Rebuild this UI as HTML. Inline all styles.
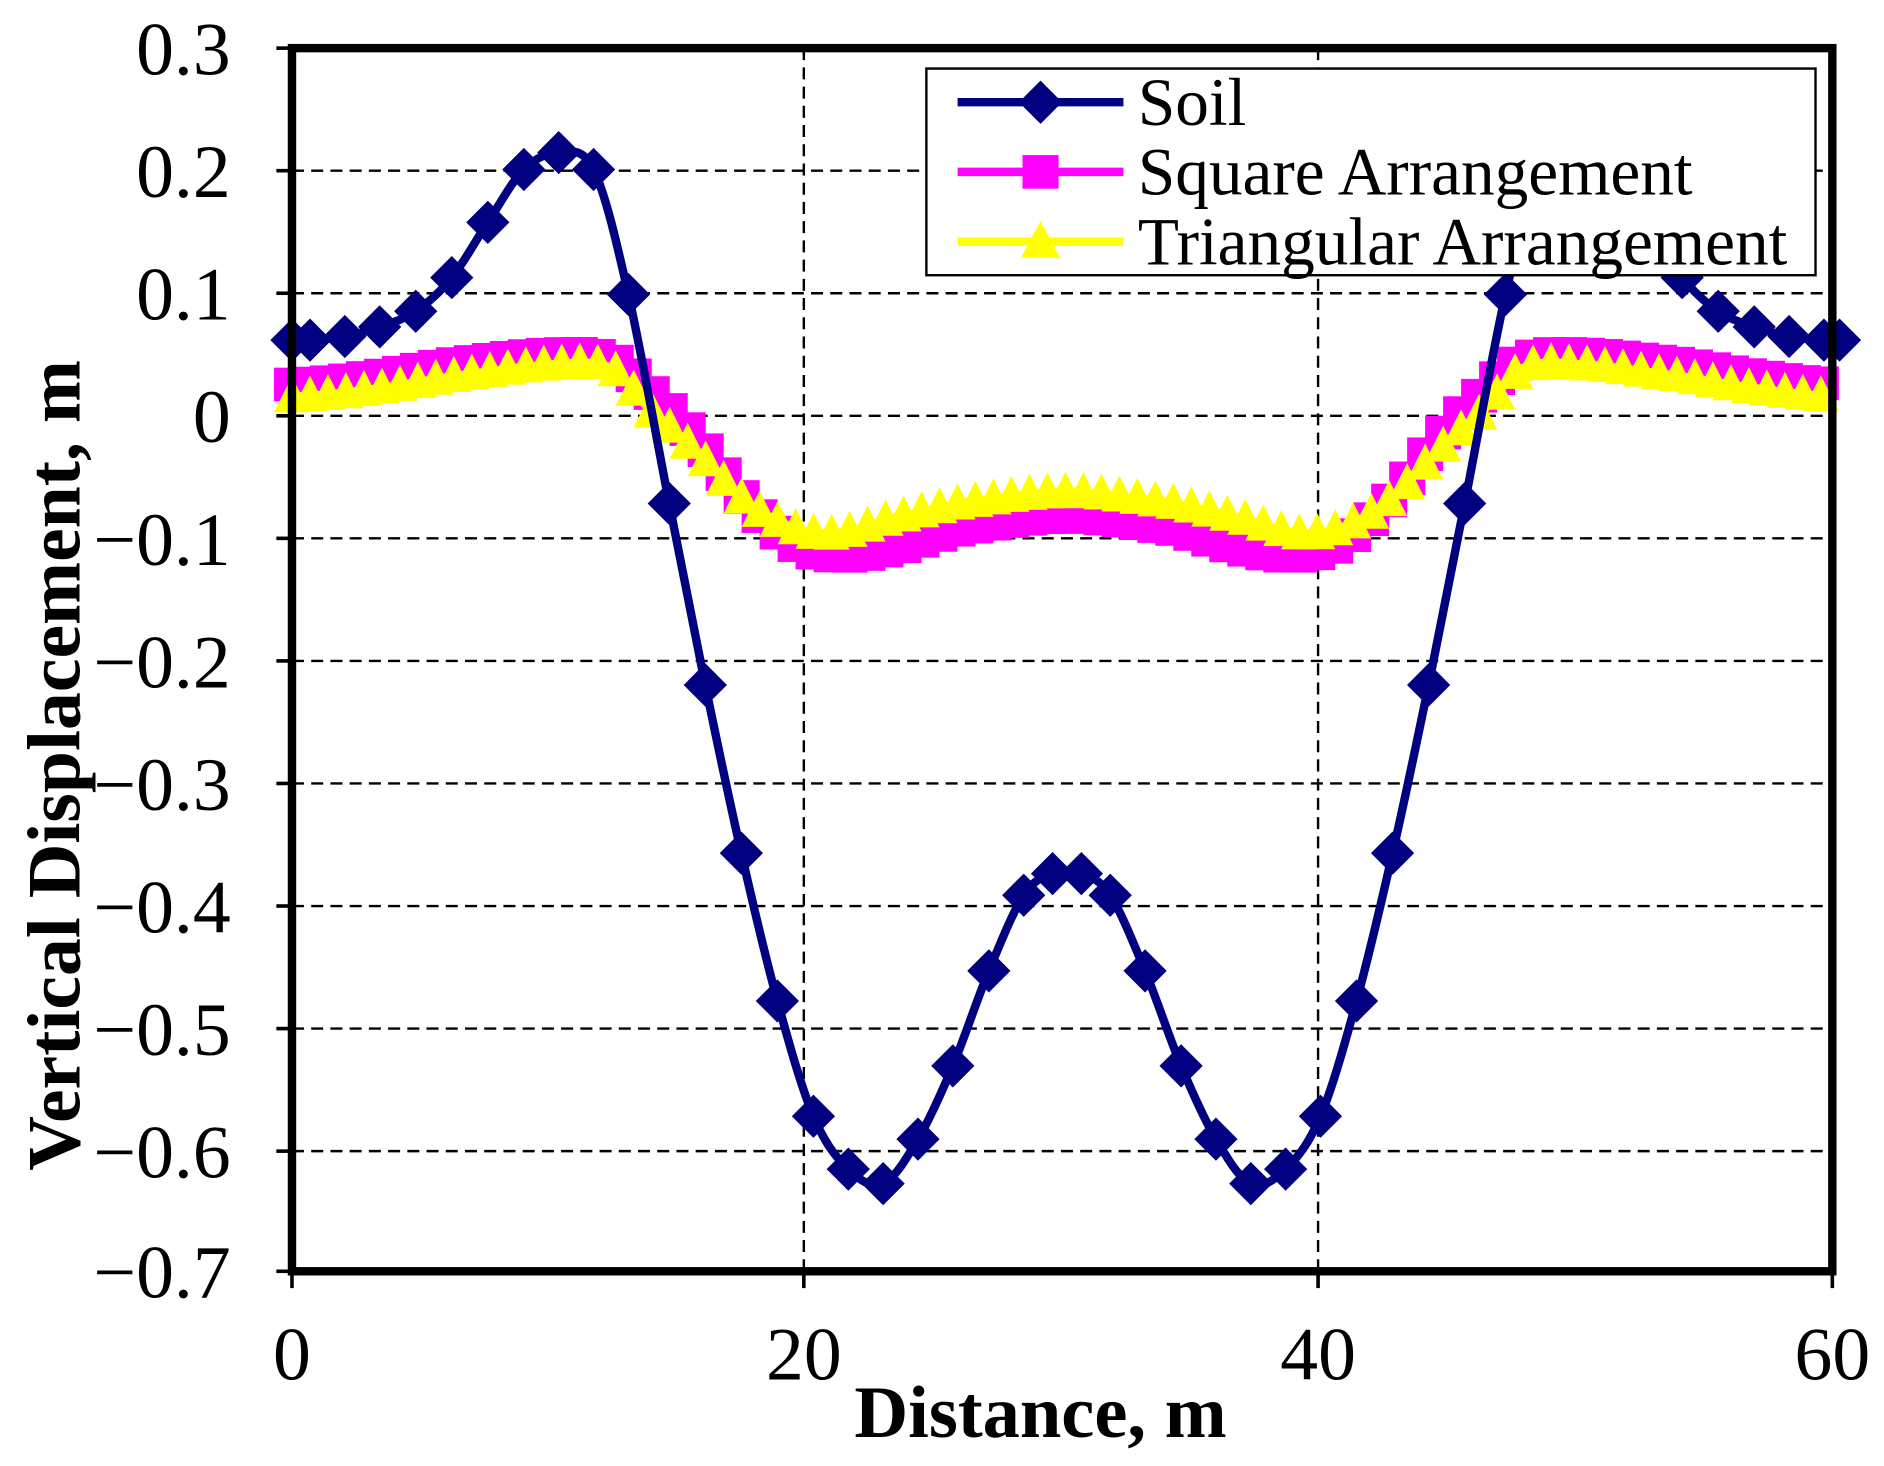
<!DOCTYPE html>
<html><head><meta charset="utf-8"><style>html,body{margin:0;padding:0;background:#fff}svg{display:block}</style></head>
<body>
<svg id="s" width="1884" height="1466" viewBox="0 0 1568 1220" xmlns="http://www.w3.org/2000/svg" font-family="Liberation Serif, serif">
<g stroke="#000" stroke-width="2" stroke-dasharray="10,6">
<line x1="243" y1="142" x2="1525" y2="142"/><line x1="243" y1="244" x2="1525" y2="244"/>
<line x1="243" y1="346" x2="1525" y2="346"/><line x1="243" y1="448" x2="1525" y2="448"/>
<line x1="243" y1="550" x2="1525" y2="550"/><line x1="243" y1="652" x2="1525" y2="652"/>
<line x1="243" y1="754" x2="1525" y2="754"/><line x1="243" y1="856" x2="1525" y2="856"/>
<line x1="243" y1="958" x2="1525" y2="958"/>
<line x1="669" y1="40" x2="669" y2="1058"/><line x1="1097" y1="40" x2="1097" y2="1058"/>
</g>
<g id="series"></g>
<rect x="243" y="40" width="1282" height="1018" fill="none" stroke="#000" stroke-width="7"/>
<g stroke="#000" stroke-width="3">
<line x1="230" y1="40" x2="243" y2="40"/><line x1="230" y1="142" x2="243" y2="142"/><line x1="230" y1="244" x2="243" y2="244"/><line x1="230" y1="346" x2="243" y2="346"/><line x1="230" y1="448" x2="243" y2="448"/><line x1="230" y1="550" x2="243" y2="550"/><line x1="230" y1="652" x2="243" y2="652"/><line x1="230" y1="754" x2="243" y2="754"/><line x1="230" y1="856" x2="243" y2="856"/><line x1="230" y1="958" x2="243" y2="958"/><line x1="230" y1="1058" x2="243" y2="1058"/>
<line x1="243" y1="1058" x2="243" y2="1072"/><line x1="669" y1="1058" x2="669" y2="1072"/><line x1="1097" y1="1058" x2="1097" y2="1072"/><line x1="1525" y1="1058" x2="1525" y2="1072"/>
</g>
<g font-size="63" text-anchor="end">
<text x="192" y="62">0.3</text><text x="192" y="164">0.2</text><text x="192" y="266">0.1</text><text x="192" y="368">0</text>
<text x="192" y="470">−0.1</text><text x="192" y="572">−0.2</text><text x="192" y="674">−0.3</text><text x="192" y="776">−0.4</text>
<text x="192" y="878">−0.5</text><text x="192" y="980">−0.6</text><text x="192" y="1080">−0.7</text>
</g>
<g font-size="63" text-anchor="middle">
<text x="243" y="1148">0</text><text x="669" y="1148">20</text><text x="1097" y="1148">40</text><text x="1525" y="1148">60</text>
</g>
<text x="866" y="1196" font-size="62" font-weight="bold" text-anchor="middle">Distance, m</text>
<text transform="translate(66,637) rotate(-90)" font-size="63" font-weight="bold" text-anchor="middle">Vertical Displacement, m</text>
<rect x="771" y="57" width="740" height="172" fill="#fff" stroke="#000" stroke-width="2"/>
<g id="leg"></g>
<g font-size="56"><text x="947" y="104">Soil</text><text x="947" y="162">Square Arrangement</text><text x="947" y="220">Triangular Arrangement</text></g>
</svg>
<script>
const NS="http://www.w3.org/2000/svg";
function el(t,a,p){const e=document.createElementNS(NS,t);for(const k in a)e.setAttribute(k,a[k]);p.appendChild(e);return e;}
const g=document.getElementById('series'),L=document.getElementById('leg');
const Y=v=>345.4-v*1018;
function mirror(pts){const c=888,r=pts.slice();for(let i=pts.length-2;i>=0;i--)r.push([2*c-pts[i][0],pts[i][1]]);return r;}
function interp(pts,x){for(let i=0;i<pts.length-1;i++){if(x<=pts[i+1][0]){const p0=pts[Math.max(0,i-1)],p1=pts[i],p2=pts[i+1],p3=pts[Math.min(pts.length-1,i+2)];const t=(x-p1[0])/(p2[0]-p1[0]);const t2=t*t,t3=t2*t;return 0.5*((2*p1[1])+(-p0[1]+p2[1])*t+(2*p0[1]-5*p1[1]+4*p2[1]-p3[1])*t2+(-p0[1]+3*p1[1]-3*p2[1]+p3[1])*t3);}}return pts[pts.length-1][1];}
const sq=mirror([[243,0.025],[300,0.03],[380,0.042],[470,0.05],[510,0.045],[540,0.02],[580,-0.02],[620,-0.07],[660,-0.105],[695,-0.115],[740,-0.11],[800,-0.093],[888,-0.083]]);
const tr=mirror([[243,0.015],[300,0.02],[380,0.032],[470,0.042],[510,0.038],[540,0.005],[580,-0.03],[620,-0.07],[660,-0.092],[695,-0.097],[740,-0.085],[800,-0.072],[888,-0.063]]);
function dense(pts,col,mk){let d="";for(let x=243;x<=1525.1;x+=4){d+=(d?"L":"M")+x+","+Y(interp(pts,x)).toFixed(1);}el('path',{d,fill:'none',stroke:col,'stroke-width':7},g);
for(let x=243;x<=1525.1;x+=14.97){const y=Y(interp(pts,x));mk(x,y);}}
dense(sq,'#ff00ff',(x,y)=>el('rect',{x:x-15,y:y-14,width:30,height:28,fill:'#ff00ff'},g));
dense(tr,'#ffff00',(x,y)=>el('polygon',{points:`${x},${y-17} ${x+15},${y+13} ${x-15},${y+13}`,fill:'#ffff00'},g));
const soilL=[[243,283],[258,283],[287,280],[316,272],[346,259],[376,231],[406,185],[436,141],[465,127],[494,141],[523,245],[557,419],[587,570],[617,710],[647,833],[677,929],[706,973],[735,985],[764,948],[793,887],[823,808],[852,745],[876,727]];
const soil=soilL.slice();for(let i=soilL.length-1;i>=0;i--)soil.push([1776-soilL[i][0]+(i==0?-2:0),soilL[i][1]]);
let d="";for(let i=0;i<soil.length;i++){const p=soil[i];if(i==0){d="M"+p;continue;}const p0=soil[Math.max(0,i-2)],p1=soil[i-1],p2=p,p3=soil[Math.min(soil.length-1,i+1)];
const c1=[p1[0]+(p2[0]-p0[0])/6,p1[1]+(p2[1]-p0[1])/6],c2=[p2[0]-(p3[0]-p1[0])/6,p2[1]-(p3[1]-p1[1])/6];d+=`C${c1} ${c2} ${p2}`;}
el('path',{d,fill:'none',stroke:'#000080','stroke-width':7},g);
soil.forEach(p=>el('polygon',{points:`${p[0]},${p[1]-18} ${p[0]+18},${p[1]} ${p[0]},${p[1]+18} ${p[0]-18},${p[1]}`,fill:'#000080'},g));
el('line',{x1:797,y1:85,x2:935,y2:85,stroke:'#000080','stroke-width':7},L);
el('polygon',{points:'866,67 884,85 866,103 848,85',fill:'#000080'},L);
el('line',{x1:797,y1:143,x2:935,y2:143,stroke:'#ff00ff','stroke-width':7},L);
el('rect',{x:851,y:129,width:30,height:28,fill:'#ff00ff'},L);
el('line',{x1:797,y1:201,x2:935,y2:201,stroke:'#ffff00','stroke-width':7},L);
el('polygon',{points:'866,184 882,214 850,214',fill:'#ffff00'},L);
</script>
</body></html>
